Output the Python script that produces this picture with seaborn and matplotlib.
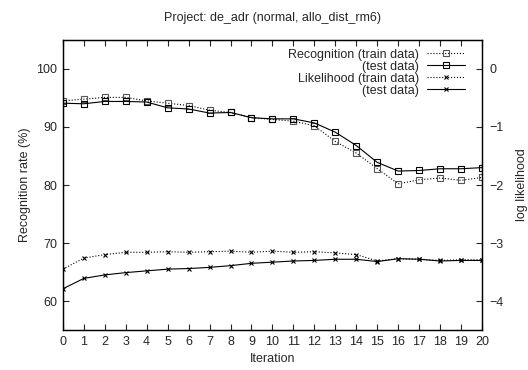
import matplotlib
matplotlib.use("Agg")
import pandas as pd
import matplotlib.pyplot as plt
import seaborn as sns

iteration = list(range(21))
rec_train = [94.5, 94.8, 95.1, 95.1, 94.5, 94.1, 93.7, 92.9, 92.5, 91.6, 91.3,
             91.0, 90.2, 87.5, 85.5, 82.8, 80.2, 80.9, 81.2, 80.8, 81.3]
rec_test = [94.1, 94.0, 94.4, 94.4, 94.3, 93.3, 93.1, 92.4, 92.5, 91.6, 91.4,
            91.4, 90.7, 89.1, 86.8, 83.9, 82.4, 82.5, 82.8, 82.8, 83.0]
lik_train = [-3.45, -3.26, -3.20, -3.16, -3.16, -3.15, -3.16, -3.15, -3.14, -3.16, -3.14,
             -3.16, -3.15, -3.17, -3.20, -3.31, -3.27, -3.28, -3.30, -3.29, -3.29]
lik_test = [-3.79, -3.61, -3.55, -3.51, -3.48, -3.45, -3.44, -3.42, -3.39, -3.35, -3.33,
            -3.31, -3.30, -3.28, -3.28, -3.32, -3.27, -3.28, -3.31, -3.30, -3.30]

df = pd.DataFrame({"iteration": iteration, "rec_train": rec_train, "rec_test": rec_test,
                   "lik_train": lik_train, "lik_test": lik_test})

sns.set_theme(style="ticks")
plt.rcParams['font.family'] = ['Liberation Sans', 'DejaVu Sans']
plt.rcParams['font.size'] = 9

fig = plt.figure(figsize=(5.28, 3.7), dpi=100)
ax = fig.add_axes([0.119, 0.108, 0.794, 0.784])
ax2 = ax.twinx()

common = dict(color="black", linewidth=0.8, markerfacecolor="none", markeredgewidth=0.8)
sns.lineplot(data=df, x="iteration", y="rec_train", ax=ax, linestyle=":", marker="s",
             markersize=4.5, markeredgecolor="#555555", label="Recognition (train data)", **common)
sns.lineplot(data=df, x="iteration", y="rec_test", ax=ax, linestyle="-", marker="s",
             markersize=4.5, markeredgecolor="black", label="(test data)", **common)
sns.lineplot(data=df, x="iteration", y="lik_train", ax=ax2, linestyle=":", marker="x",
             markersize=3.5, markeredgecolor="black", label="Likelihood (train data)", **common)
sns.lineplot(data=df, x="iteration", y="lik_test", ax=ax2, linestyle="-", marker="x",
             markersize=3.5, markeredgecolor="black", label="(test data)", **common)

ax.set_xlim(0, 20)
ax.set_ylim(55, 105)
ax2.set_ylim(-4.5, 0.5)
ax.set_xticks(iteration)
ax.set_yticks([60, 70, 80, 90, 100])
ax2.set_yticks([-4, -3, -2, -1, 0])

ax.tick_params(axis="x", direction="in", top=True, length=4, width=0.8, pad=4, labelsize=9)
ax.tick_params(axis="y", direction="in", left=True, right=False, length=4, width=0.8, pad=4, labelsize=9)
ax2.tick_params(axis="y", direction="in", length=4, width=0.8, pad=5, labelsize=9)
for a in (ax, ax2):
    for s in a.spines.values():
        s.set_linewidth(0.9)
        s.set_color("black")

ax.set_xlabel("Iteration", fontsize=9)
ax.set_ylabel("Recognition rate (%)", fontsize=9)
ax2.set_ylabel("log likelihood", fontsize=9, labelpad=9)
ax.set_title("Project: de_adr (normal, allo_dist_rm6)", fontsize=9, pad=14)

h1, l1 = ax.get_legend_handles_labels()
h2, l2 = ax2.get_legend_handles_labels()
ax.get_legend().remove()
ax2.get_legend().remove()
ax2.legend(h1 + h2, l1 + l2, loc="upper right", markerfirst=False, frameon=False,
           handlelength=3.0, handletextpad=0.7, labelspacing=0.0, borderaxespad=0.3,
           fontsize=9, bbox_to_anchor=(0.98, 1.0))

fig.savefig("out.png", dpi=100)
